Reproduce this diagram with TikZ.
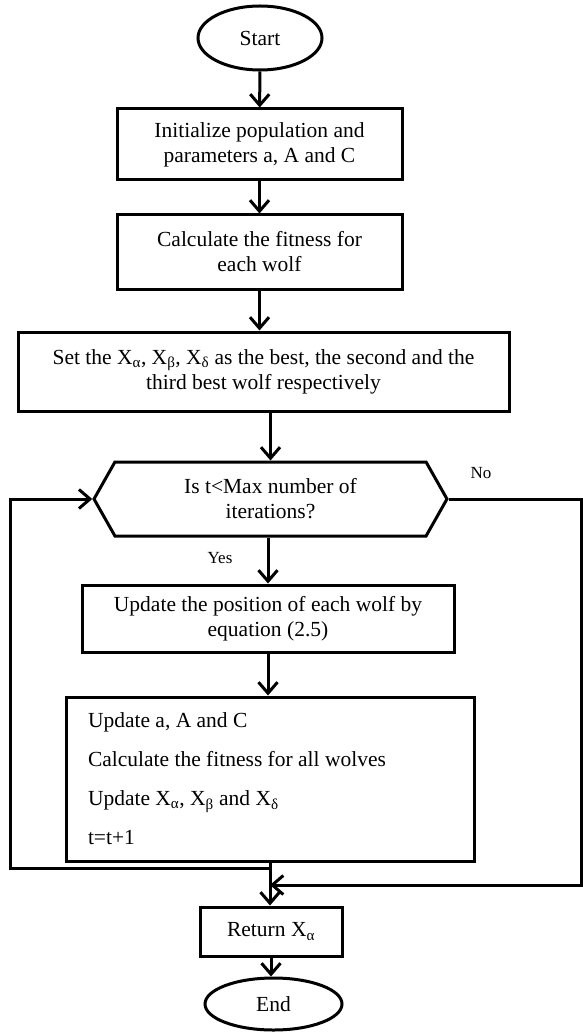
\documentclass[tikz,border=0pt]{standalone}
\usepackage{fontspec}
\setmainfont{Liberation Serif}
\usetikzlibrary{shapes.geometric,shapes.symbols,arrows.meta}

\begin{document}
\begin{tikzpicture}[x=1pt,y=-1pt]
  % overall canvas
  \useasboundingbox (0,0) rectangle (582,1032);

  % styles
  \tikzset{
    term/.style={draw=black,line width=3pt,ellipse,inner sep=0pt,font=\fontsize{21.5}{25}\selectfont},
    proc/.style={draw=black,line width=3pt,rectangle,inner sep=0pt,align=center,font=\fontsize{21.5}{25}\selectfont},
    test/.style={draw=black,line width=3pt,signal,signal to=west and east,signal pointer angle=121,inner sep=0pt,align=center,font=\fontsize{21.5}{25}\selectfont},
    arr/.style={draw=black,line width=3pt,-{Straight Barb[length=11pt,width=19pt]}},
    lbl/.style={font=\fontsize{17}{20}\selectfont},
  }

  % white background
  \fill[white] (0,0) rectangle (582,1032);

  % --- boxes, top to bottom ---
  \node[term,minimum width=124pt,minimum height=64pt] (start) at (260,38) {Start};
  \node[proc,minimum width=285pt,minimum height=71pt] (init) at (259.5,144.5)
    {Initialize population and\\parameters a, A and C};
  \node[proc,minimum width=285pt,minimum height=74pt] (calc) at (259.5,252)
    {Calculate the fitness for\\each wolf};
  \node[proc,minimum width=491pt,minimum height=79pt] (set) at (263.5,371.5)
    {Set the X\textsubscript{α}, X\textsubscript{β}, X\textsubscript{δ} as the best, the second and the\\third best wolf respectively};
  \node[test,minimum width=353pt,minimum height=74pt] (dec) at (270.5,499)
    {Is t<Max number of\\iterations?};
  \node[proc,minimum width=372pt,minimum height=67pt] (upd) at (268,618.5)
    {Update the position of each wolf by\\equation (2.5)};
  \node[proc,minimum width=408pt,minimum height=164pt,inner xsep=22pt,text width=364pt,align=flush left,
        font=\fontsize{21.5}{39}\selectfont] (step) at (270,779)
    {Update a, A and C\\Calculate the fitness for all wolves\\Update X\textsubscript{α}, X\textsubscript{β} and X\textsubscript{δ}\\t=t+1};
  \node[proc,minimum width=142pt,minimum height=49pt] (ret) at (271,931.5) {Return X\textsubscript{α}};
  \node[term,minimum width=137pt,minimum height=52pt] (end) at (273.5,1004) {End};

  % branch labels
  \node[lbl] (yes) at (220,558) {Yes};
  \node[lbl] (no) at (481,473) {No};

  % loop corners
  \coordinate (jl) at (270,868);
  \coordinate (cl) at (10,868);
  \coordinate (cr) at (581,885);
  \coordinate (jr) at (270,885);

  % main flow
  \draw[arr] (start) -- (init);
  \draw[arr] (init) -- (calc);
  \draw[arr] (calc.south) -- (calc.south |- set.north);
  \draw[arr] (set.south -| dec.north) -- (dec.north);
  \draw[arr] (dec.south -| upd.north) -- (upd.north);
  \draw[arr] (upd.south) -- (upd.south |- step.north);
  \draw[arr] (step.south) -- (step.south |- ret.north);
  \draw[arr] (ret.south) -- (ret.south |- end.north);

  % back to the test, and the exit
  \draw[arr] (jl) -- (cl) |- (dec.west);
  \draw[arr] (dec.east) -| (cr) -- (jr);
\end{tikzpicture}
\end{document}
